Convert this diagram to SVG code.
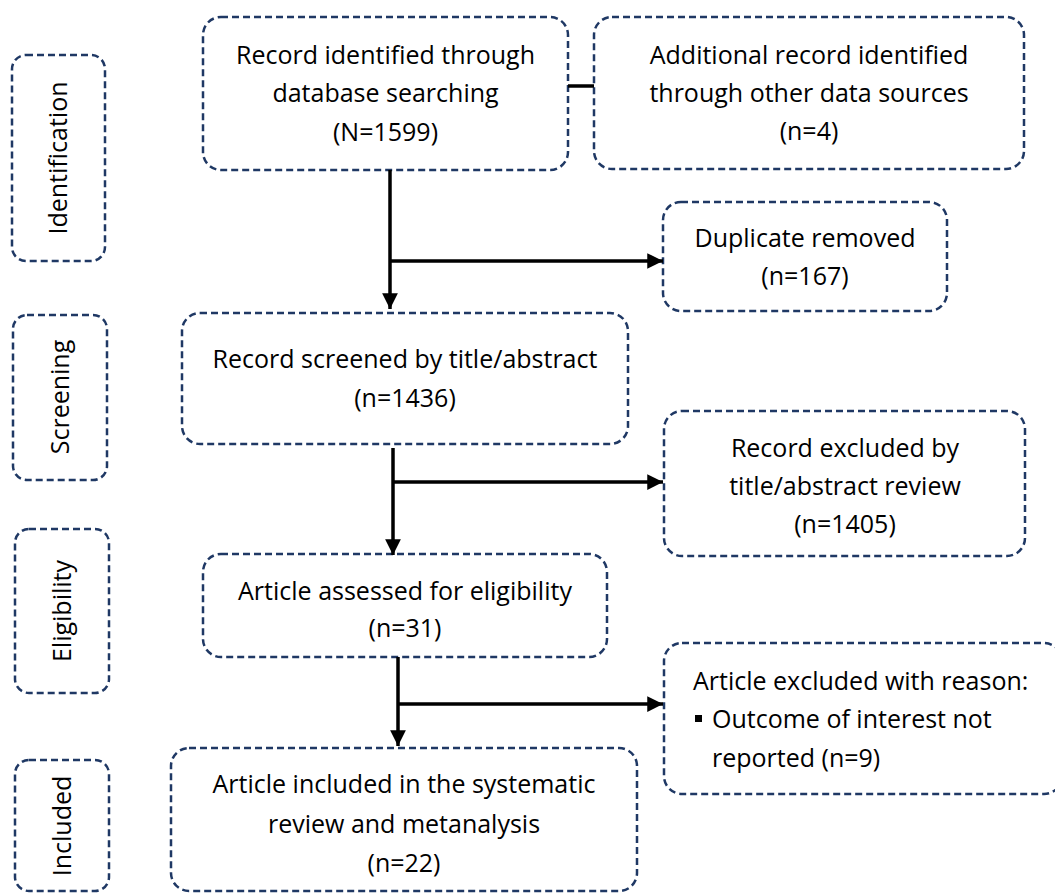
<svg xmlns="http://www.w3.org/2000/svg" width="1055" height="893" viewBox="0 0 1055 893">
<defs>
<style>
.box{fill:none;stroke:#1f3864;stroke-width:2.5;stroke-dasharray:7 4}
.t{font-family:"Open Sans","Noto Sans",sans-serif;font-size:25px;fill:#000}
.c{text-anchor:middle}
.ln{stroke:#000;stroke-width:3.5;fill:none}
</style>
<marker id="ah" viewBox="0 0 10 10" refX="10" refY="5" markerWidth="4.5" markerHeight="4.5" markerUnits="strokeWidth" orient="auto">
<path d="M0,0 L10,5 L0,10 Z" fill="#000"/>
</marker>
</defs>
<rect width="1055" height="893" fill="#fff"/>

<g id="label-identification">
<rect class="box" x="12" y="55" width="93" height="206" rx="14"/>
<text class="t c" transform="translate(67,158) rotate(-90)">Identification</text>
</g>
<g id="label-screening">
<rect class="box" x="13" y="315" width="94" height="165" rx="14"/>
<text class="t c" transform="translate(69,397) rotate(-90)">Screening</text>
</g>
<g id="label-eligibility">
<rect class="box" x="15" y="529" width="94" height="164" rx="14"/>
<text class="t c" transform="translate(71,611) rotate(-90)">Eligibility</text>
</g>
<g id="label-included">
<rect class="box" x="15" y="760" width="94" height="131" rx="14"/>
<text class="t c" transform="translate(71,826) rotate(-90)">Included</text>
</g>

<g id="n-database">
<rect class="box" x="203" y="17" width="365" height="153" rx="18"/>
<text class="t c" x="385.5" y="64">Record identified through</text>
<text class="t c" x="385.5" y="102">database searching</text>
<text class="t c" x="385.5" y="141">(N=1599)</text>
</g>
<g id="n-other">
<rect class="box" x="594" y="17" width="430" height="152" rx="18"/>
<text class="t c" x="809" y="64">Additional record identified</text>
<text class="t c" x="809" y="102">through other data sources</text>
<text class="t c" x="809" y="140">(n=4)</text>
</g>
<g id="n-duplicate">
<rect class="box" x="663" y="202" width="284" height="109" rx="18"/>
<text class="t c" x="805" y="247">Duplicate removed</text>
<text class="t c" x="805" y="285">(n=167)</text>
</g>
<g id="n-screened">
<rect class="box" x="182" y="313" width="446" height="131" rx="18"/>
<text class="t c" x="405" y="368">Record screened by title/abstract</text>
<text class="t c" x="405" y="407">(n=1436)</text>
</g>
<g id="n-excluded-title">
<rect class="box" x="664" y="411" width="361" height="145" rx="18"/>
<text class="t c" x="845" y="457">Record excluded by</text>
<text class="t c" x="845" y="495">title/abstract review</text>
<text class="t c" x="845" y="533">(n=1405)</text>
</g>
<g id="n-assessed">
<rect class="box" x="203" y="554" width="404" height="103" rx="18"/>
<text class="t c" x="405" y="600">Article assessed for eligibility</text>
<text class="t c" x="405" y="637">(n=31)</text>
</g>
<g id="n-excluded-reason">
<rect class="box" x="664" y="643" width="398" height="151" rx="18"/>
<text class="t" x="693" y="690">Article excluded with reason:</text>
<rect x="695" y="715" width="7" height="7" fill="#000"/>
<text class="t" x="712" y="728">Outcome of interest not</text>
<text class="t" x="712" y="767">reported (n=9)</text>
</g>
<g id="n-included">
<rect class="box" x="171" y="748" width="466" height="143" rx="18"/>
<text class="t c" x="404" y="793">Article included in the systematic</text>
<text class="t c" x="404" y="833">review and metanalysis</text>
<text class="t c" x="404" y="872">(n=22)</text>
</g>

<g id="connectors">
<line class="ln" x1="568" y1="86" x2="594" y2="86"/>
<line class="ln" x1="390" y1="170" x2="390" y2="309" marker-end="url(#ah)"/>
<line class="ln" x1="390" y1="261" x2="663" y2="261" marker-end="url(#ah)"/>
<line class="ln" x1="393" y1="448" x2="393" y2="555" marker-end="url(#ah)"/>
<line class="ln" x1="393" y1="482" x2="663" y2="482" marker-end="url(#ah)"/>
<line class="ln" x1="398" y1="657" x2="398" y2="746" marker-end="url(#ah)"/>
<line class="ln" x1="398" y1="704" x2="663" y2="704" marker-end="url(#ah)"/>
</g>
</svg>
